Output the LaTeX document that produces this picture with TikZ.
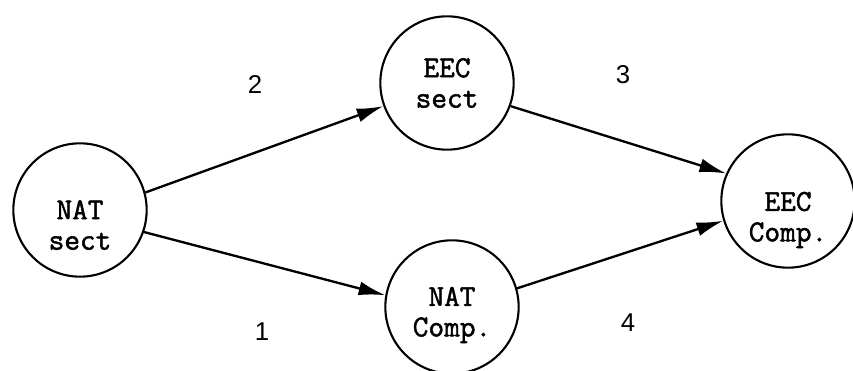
\documentclass[tikz,border=0pt]{standalone}
\usepackage{fontspec}
\newfontfamily\typer{Latin Modern Mono}[FakeBold=1.6]
\setsansfont{Liberation Sans}
\usetikzlibrary{arrows.meta}

\begin{document}
\begin{tikzpicture}[x=0.03cm, y=0.03cm, >={Latex[length=8mm, width=4.2mm]},
    sector/.style={circle, draw, line width=1.8pt, minimum size=4.0cm, inner sep=0pt},
    sectortext/.style={align=center, inner sep=0pt, font=\typer\bfseries\fontsize{26}{26}\selectfont},
    flow/.style={->, line width=2pt},
    flownum/.style={font=\sffamily\fontsize{22}{24}\selectfont}]

\useasboundingbox (0, 0) rectangle (853, 371);

% sectors
\node[sector, label={[sectortext, yshift=-0.45cm]center:NAT\\sect}] (natsect) at (80, 161) {};
\node[sector, label={[sectortext]center:EEC\\sect}] (eecsect) at (447, 288) {};
\node[sector, label={[sectortext, yshift=-0.24cm]center:NAT\\Comp.}] (natcomp) at (452, 64) {};
\node[sector, label={[sectortext, yshift=-0.57cm]center:EEC\\Comp.}] (eeccomp) at (788, 170) {};

% flows
\draw[flow] (natsect.15) -- (eecsect.200);
\draw[flow] (natsect.-19) -- (natcomp.170);
\draw[flow] (eecsect.-20) -- (eeccomp.156);
\draw[flow] (natcomp.16) -- (eeccomp.197);

% numbers
\node[flownum] (n2) at (255, 286) {2};
\node[flownum] (n1) at (262, 39) {1};
\node[flownum] (n3) at (623, 296) {3};
\node[flownum] (n4) at (628, 48) {4};

\end{tikzpicture}
\end{document}
